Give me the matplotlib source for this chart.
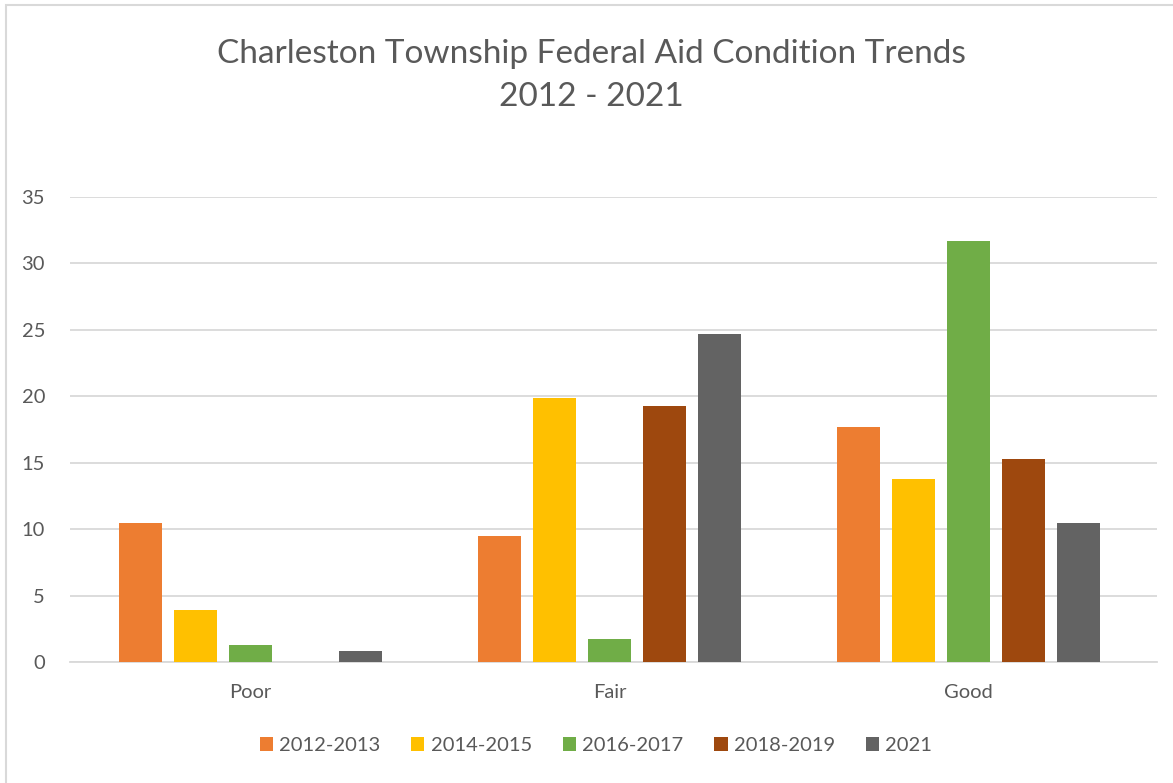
import numpy as np
import matplotlib.pyplot as plt
from matplotlib.patches import Rectangle

categories = ["Poor", "Fair", "Good"]
series = ["2012-2013", "2014-2015", "2016-2017", "2018-2019", "2021"]
values = {
    "2012-2013": [10.5, 9.5, 17.7],
    "2014-2015": [3.9, 19.9, 13.8],
    "2016-2017": [1.3, 1.7, 31.7],
    "2018-2019": [0.0, 19.3, 15.3],
    "2021": [0.8, 24.7, 10.5],
}
colors = ["#ED7D31", "#FFC000", "#70AD47", "#9E480E", "#636363"]

plt.rcParams['font.family'] = ['Lato', 'DejaVu Sans']
text_color = "#595959"

fig = plt.figure(figsize=(11.73, 7.83), dpi=100)
ax = fig.add_axes([0.0597, 0.1545, 0.9268, 0.5939])

x = np.arange(len(categories))
step = 0.153
width = 0.12
for i, (name, c) in enumerate(zip(series, colors)):
    offs = (i - 2) * step
    ax.bar(x + offs, values[name], width, color=c, label=name, zorder=3)

ax.set_xlim(-0.502, 2.525)
ax.set_ylim(0, 35)
ax.set_yticks(range(0, 36, 5))
ax.set_xticks(x)
ax.set_xticklabels(categories)
ax.grid(axis="y", color="#D9D9D9", linewidth=1.3, zorder=0)
for s in ["top", "right", "left"]:
    ax.spines[s].set_visible(False)
ax.spines["bottom"].set_color("#D9D9D9")
ax.spines["bottom"].set_linewidth(1.3)
ax.tick_params(axis="both", length=0, labelsize=14.5, colors=text_color)
ax.tick_params(axis="x", pad=16)
ax.tick_params(axis="y", pad=18)

fig.text(0.504, 0.904, "Charleston Township Federal Aid Condition Trends\n2012 - 2021",
         ha="center", va="center", fontsize=24, color=text_color, linespacing=1.55)

leg = fig.legend(loc="center", bbox_to_anchor=(0.508, 0.048), ncol=5, frameon=False,
                 fontsize=14.5, handlelength=0.65, handleheight=0.65, handletextpad=0.3,
                 columnspacing=1.55)
for t in leg.get_texts():
    t.set_color(text_color)

# chart area border
fig.patches.append(Rectangle((0.005, -0.1), 1.2, 1.093, transform=fig.transFigure,
                             fill=False, edgecolor="#D9D9D9", linewidth=1.5))

fig.savefig("out.png", dpi=100)
